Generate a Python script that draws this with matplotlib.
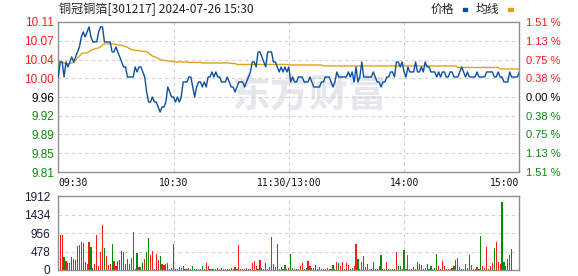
import matplotlib
matplotlib.use("Agg")
import matplotlib.pyplot as plt
import numpy as np

plt.rcParams['font.family'] = ['Liberation Sans', 'Noto Sans CJK SC', 'DejaVu Sans']

# ---- data ----
title = "铜冠铜箔[301217] 2024-07-26 15:30"
prev_close = 9.96

price = [
    10.00, 10.03, 10.03, 10.00, 10.03, 10.02, 10.03, 10.04, 10.03, 10.04,
    10.05, 10.06, 10.08, 10.09, 10.08, 10.09, 10.10, 10.08, 10.07, 10.07,
    10.07, 10.09, 10.10, 10.10, 10.07, 10.07, 10.07, 10.07, 10.05, 10.05,
    10.06, 10.05, 10.04, 10.03, 10.02, 10.02, 10.00, 10.00, 10.00, 10.00,
    10.02, 10.01, 10.02, 10.02, 10.01, 10.00, 9.97, 9.95, 9.95, 9.96,
    9.95, 9.95, 9.94, 9.93, 9.94, 9.94, 9.95, 9.98, 9.97, 9.96,
    9.96, 9.95, 9.96, 9.95, 9.96, 9.99, 9.99, 9.99, 10.00, 10.00,
    9.98, 9.96, 9.98, 9.99, 9.99, 9.98, 9.99, 9.98, 10.00, 10.00,
    10.01, 10.00, 10.01, 10.00, 10.00, 9.99, 9.99, 9.99, 10.00, 9.99,
    9.98, 9.98, 9.97, 9.98, 9.99, 9.99, 9.99, 9.98, 9.99, 10.00,
    10.01, 10.03, 10.03, 10.02, 10.05, 10.05, 10.04, 10.03, 10.02, 10.05,
    10.05, 10.05, 10.03, 10.03, 10.02, 10.01, 10.02, 10.01, 10.02, 10.01,
    10.02, 9.99, 10.00, 9.99, 9.99, 10.00, 10.00, 10.00, 9.99, 9.99,
    9.99, 10.00, 9.99, 9.98, 9.98, 9.98, 9.98, 9.99, 9.99, 10.00,
    10.00, 10.00, 9.99, 9.98, 9.99, 10.01, 10.00, 10.00, 10.00, 10.00,
    10.00, 10.01, 10.00, 10.01, 9.99, 10.02, 9.99, 10.00, 10.03, 10.00,
    10.00, 10.00, 10.00, 10.00, 10.01, 10.00, 9.99, 9.99, 9.98, 9.99,
    9.99, 10.00, 10.00, 10.01, 10.01, 10.00, 10.03, 10.03, 10.02, 10.03,
    10.01, 10.00, 10.02, 10.01, 10.01, 10.01, 10.03, 10.01, 10.01, 10.02,
    10.01, 10.03, 10.02, 10.02, 10.01, 10.01, 10.01, 10.00, 10.01, 10.00,
    10.01, 10.01, 10.00, 10.00, 10.01, 10.01, 10.00, 10.00, 10.00, 10.01,
    10.02, 10.01, 10.00, 10.01, 10.00, 10.00, 10.00, 10.00, 10.01, 10.00,
    10.00, 10.00, 10.00, 10.01, 10.01, 10.01, 10.01, 10.00, 10.00, 10.01,
    10.00, 10.00, 9.99, 9.99, 9.99, 10.01, 10.00, 10.00, 10.00, 10.00,
    10.01,
]

avg_price = [
    10.031, 10.031, 10.030, 10.028, 10.026, 10.026, 10.027, 10.028, 10.029, 10.033,
    10.038, 10.042, 10.046, 10.048, 10.048, 10.048, 10.050, 10.054, 10.055, 10.056,
    10.057, 10.058, 10.060, 10.064, 10.066, 10.066, 10.066, 10.066, 10.066, 10.066,
    10.065, 10.064, 10.064, 10.063, 10.062, 10.061, 10.059, 10.057, 10.055, 10.054,
    10.053, 10.053, 10.052, 10.052, 10.051, 10.051, 10.050, 10.048, 10.045, 10.042,
    10.040, 10.039, 10.037, 10.035, 10.034, 10.033, 10.033, 10.032, 10.032, 10.031,
    10.031, 10.030, 10.030, 10.030, 10.030, 10.030, 10.030, 10.030, 10.029, 10.029,
    10.029, 10.029, 10.029, 10.029, 10.029, 10.028, 10.028, 10.028, 10.028, 10.028,
    10.028, 10.028, 10.028, 10.028, 10.028, 10.028, 10.028, 10.028, 10.028, 10.028,
    10.027, 10.027, 10.027, 10.025, 10.025, 10.025, 10.025, 10.025, 10.025, 10.025,
    10.025, 10.025, 10.025, 10.025, 10.025, 10.025, 10.025, 10.025, 10.025, 10.025,
    10.025, 10.025, 10.025, 10.025, 10.025, 10.025, 10.025, 10.025, 10.025, 10.025,
    10.024, 10.024, 10.024, 10.024, 10.024, 10.024, 10.024, 10.024, 10.024, 10.024,
    10.024, 10.024, 10.024, 10.024, 10.024, 10.024, 10.024, 10.024, 10.022, 10.022,
    10.022, 10.022, 10.022, 10.022, 10.022, 10.022, 10.022, 10.022, 10.022, 10.022,
    10.022, 10.022, 10.022, 10.022, 10.022, 10.022, 10.022, 10.022, 10.022, 10.022,
    10.022, 10.022, 10.022, 10.022, 10.022, 10.022, 10.022, 10.022, 10.022, 10.022,
    10.022, 10.022, 10.022, 10.022, 10.022, 10.022, 10.022, 10.022, 10.022, 10.022,
    10.022, 10.022, 10.022, 10.022, 10.022, 10.022, 10.022, 10.022, 10.022, 10.022,
    10.022, 10.022, 10.022, 10.022, 10.022, 10.022, 10.022, 10.022, 10.022, 10.022,
    10.022, 10.022, 10.022, 10.022, 10.022, 10.022, 10.022, 10.022, 10.019, 10.019,
    10.019, 10.019, 10.019, 10.019, 10.019, 10.019, 10.019, 10.019, 10.019, 10.019,
    10.019, 10.019, 10.019, 10.019, 10.019, 10.019, 10.019, 10.019, 10.019, 10.019,
    10.016, 10.016, 10.016, 10.016, 10.016, 10.016, 10.016, 10.016, 10.016, 10.016,
    10.016,
]

volume = [
    900, 908, 908, 329, 234, 173, 173, 329, 285, 260,
    623, 649, 727, 709, 199, 156, 727, 606, 43, 156,
    908, 104, 476, 1168, 571, 363, 130, 156, 675, 234,
    104, 234, 260, 493, 467, 156, 285, 156, 311, 986,
    26, 441, 78, 78, 182, 285, 467, 830, 389, 493,
    26, 415, 268, 363, 156, 138, 156, 182, 26, 52,
    675, 26, 26, 78, 52, 104, 26, 26, 52, 26,
    104, 26, 26, 26, 26, 104, 26, 182, 104, 26,
    26, 26, 26, 52, 26, 52, 26, 26, 26, 26,
    52, 26, 78, 26, 649, 26, 26, 26, 52, 26,
    26, 182, 234, 104, 26, 260, 52, 26, 182, 26,
    78, 856, 156, 78, 675, 26, 78, 26, 130, 26,
    52, 415, 52, 26, 26, 26, 104, 182, 26, 52,
    234, 104, 52, 52, 130, 26, 78, 26, 26, 26,
    52, 26, 26, 130, 26, 208, 182, 104, 208, 26,
    182, 130, 26, 52, 104, 675, 285, 26, 208, 363,
    78, 156, 26, 26, 208, 26, 26, 104, 389, 26,
    26, 208, 26, 26, 26, 26, 467, 104, 104, 26,
    519, 26, 389, 26, 26, 78, 26, 208, 156, 130,
    26, 52, 156, 26, 104, 26, 52, 415, 104, 26,
    234, 104, 26, 26, 26, 52, 104, 260, 311, 78,
    26, 26, 156, 52, 389, 130, 26, 26, 78, 26,
    882, 104, 52, 597, 26, 104, 182, 571, 727, 208,
    156, 1765, 208, 104, 285, 389, 545, 0, 0, 0,
    882,
]

# r = up tick (red), g = down tick (green)
vol_dir = ("rrrgrgggrr" "rrrrgrrggr" "rrrrgrrrgr" "rgrggrgrrr" "rgrggrggrr"
           "grrgrrrrgg" "ggrrrrrrrg" "grrrrggrrg" "rrrrggrrgr" "ggrrrrrrrg"
           "rrrrgrgggr" "rrrrgggrgr" "rggrgrrrgg" "rrrggrrrrr" "rrggrrgrrr"
           "rrrgrrgrrg" "rrrrrggrgr" "rrrrggrggr" "grrrrrrgrr" "ggrrgrggrr"
           "rrgrrrgrrr" "grgrgrrrrg" "grrrrrrgrr" "rggrrrgrrr" "r")

time_pos = [0, 60, 120, 180, 240]
time_labels = ["09:30", "10:30", "11:30/13:00", "14:00", "15:00"]
pct_levels = [1.51, 1.13, 0.75, 0.38, 0.00, -0.38, -0.75, -1.13, -1.51]
price_labels = ["10.11", "10.07", "10.04", "10.00", "9.96", "9.92", "9.89", "9.85", "9.81"]
pct_labels = ["1.51 %", "1.13 %", "0.75 %", "0.38 %", "0.00 %", "0.38 %", "0.75 %", "1.13 %", "1.51 %"]
vol_ticks = [0, 478, 956, 1434, 1912]

# ---- style ----
RED = '#ff1a1a'
GREEN = '#0a8a0a'
BLUE = '#0b4fa3'
GOLD = '#e0a21c'
SPINE = '#8f8f8f'
GRID = '#d2d2d2'

W, H = 578, 276
fig = plt.figure(figsize=(W / 100, H / 100), dpi=100)
fig.patch.set_facecolor('white')

def frac(x0, y0, x1, y1):
    return [x0 / W, 1 - y1 / H, (x1 - x0) / W, (y1 - y0) / H]

ax = fig.add_axes(frac(58.3, 21.7, 519.3, 172.3))
axv = fig.add_axes(frac(58.3, 196.3, 519.3, 270.0))

minutes = np.arange(len(price))
levels = [prev_close * (1 + p / 100) for p in pct_levels]
lo, hi = levels[-1], levels[0]

for a in (ax, axv):
    a.set_xlim(0, 240)
    for s in a.spines.values():
        s.set_color(SPINE)
        s.set_linewidth(1.0)
    for t in time_pos[1:-1]:
        a.axvline(t, color=GRID, lw=0.8, dashes=(3, 3), zorder=0.5)
    a.tick_params(length=0)

# watermark
ax.text(0.545, 0.51, "东方财富", transform=ax.transAxes, ha='center', va='center',
        fontsize=28, fontweight='bold', color='#e6e6ec', family=['Noto Sans CJK SC'],
        zorder=0.2)

# price panel
ax.set_ylim(lo, hi)
for lv in levels[1:-1]:
    ax.axhline(lv, color=GRID, lw=0.8, dashes=(3, 3), zorder=0.5)
ax.plot(minutes, avg_price, color=GOLD, lw=1.0, zorder=2)
ax.plot(minutes, price, color=BLUE, lw=1.0, zorder=3)

ax.set_yticks(levels)
ax.set_yticklabels(price_labels, fontsize=8.5)
ax.tick_params(axis='y', pad=3)
lab_colors = [RED] * 4 + ['black'] + [GREEN] * 4
for lab, c in zip(ax.get_yticklabels(), lab_colors):
    lab.set_color(c)

ax2 = ax.twinx()
ax2.set_ylim(lo, hi)
ax2.set_yticks(levels)
ax2.set_yticklabels(pct_labels, fontsize=8)
ax2.tick_params(length=0, pad=5)
for s in ax2.spines.values():
    s.set_visible(False)
for lab, c in zip(ax2.get_yticklabels(), lab_colors):
    lab.set_color(c)

ax.set_xticks(time_pos)
ax.set_xticklabels(time_labels, fontsize=7, family=['DejaVu Sans Mono'], color='#111111')
ax.tick_params(axis='x', pad=4)
xl = ax.get_xticklabels()
xl[0].set_ha('left')
xl[-1].set_ha('right')

# volume panel
bar_colors = [RED if d == 'r' else GREEN for d in vol_dir]
axv.bar(minutes, volume, width=0.6, color=bar_colors, linewidth=0, zorder=2)
axv.set_ylim(0, vol_ticks[-1])
for v in vol_ticks[1:-1]:
    axv.axhline(v, color=GRID, lw=0.8, dashes=(3, 3), zorder=0.5)
axv.set_yticks(vol_ticks)
axv.set_yticklabels([str(v) for v in vol_ticks], fontsize=8.5, color='#1c1c3a')
axv.tick_params(axis='y', pad=6)
axv.set_xticks([])

# title and legend
fig.text(59 / W, 1 - 9.5 / H, title, ha='left', va='center', fontsize=8.7,
         color='#222222', family=['Noto Sans CJK SC', 'DejaVu Sans'])
fig.text(431 / W, 1 - 9.5 / H, "价格", ha='left', va='center', fontsize=8.5,
         color='#222222', family=['Noto Sans CJK SC'])
fig.text(476 / W, 1 - 9.5 / H, "均线", ha='left', va='center', fontsize=8.5,
         color='#222222', family=['Noto Sans CJK SC'])
fig.patches.append(plt.Rectangle((462.5 / W, 1 - 10.8 / H), 4.5 / W, 2.6 / H,
                                 transform=fig.transFigure, color=BLUE))
fig.patches.append(plt.Rectangle((508 / W, 1 - 10.8 / H), 5 / W, 2.6 / H,
                                 transform=fig.transFigure, color=GOLD))

fig.savefig("out.png", dpi=100, facecolor='white')
